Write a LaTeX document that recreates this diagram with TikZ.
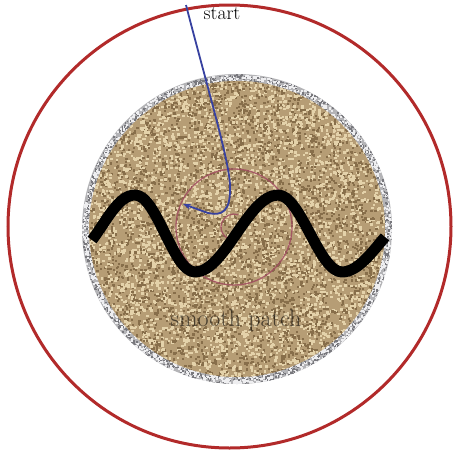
\documentclass[tikz,border=0pt]{standalone}
\usetikzlibrary{arrows.meta}
\definecolor{ringred}{RGB}{178,42,42}
\definecolor{tanbase}{RGB}{182,157,117}
\definecolor{tanlight}{RGB}{228,210,170}
\definecolor{tandark}{RGB}{135,110,74}
\definecolor{rimgray}{RGB}{180,180,183}
\definecolor{rimlight}{RGB}{238,238,240}
\definecolor{rimdark}{RGB}{120,120,125}
\definecolor{smallred}{RGB}{160,75,95}
\definecolor{pathblue}{RGB}{55,65,160}
\tikzset{
  bigring/.style={draw=ringred, line width=3},
  smallring/.style={draw=smallred, line width=1.3, opacity=0.85},
  bluepath/.style={draw=pathblue, line width=1.8},
  wave/.style={draw=black, line width=11, line cap=butt, line join=round},
  labeltext/.style={font=\fontsize{19.5}{22}\selectfont, text=black},
  patchtext/.style={font=\fontsize{24}{28}\selectfont, text=black, opacity=0.6},
}
\begin{document}
\begin{tikzpicture}[x=1pt,y=-1pt]
\useasboundingbox (0,0) rectangle (458,456);
\fill[white] (0,0) rectangle (458,456);
\coordinate (C) at (229.5,226.5);
\coordinate (D) at (237,229);
\coordinate (E) at (234,227);
% big ring
\draw[bigring] (C) circle (221.5);
% textured disk
\fill[rimgray] (D) circle (155);
\pgfmathsetseed{7}
\begin{scope}
\clip (D) circle (155);
\foreach \i in {1,...,1400}{
  \pgfmathsetmacro\ang{360*rnd}
  \pgfmathsetmacro\rr{146+9*rnd}
  \pgfmathsetmacro\angb{360*rnd}
  \pgfmathsetmacro\rrb{146+9*rnd}
  \fill[rimlight, shift={(D)}] (\ang:\rr) rectangle ++(2,2);
  \fill[rimdark, shift={(D)}] (\angb:\rrb) rectangle ++(1.5,1.5);
}
\end{scope}
\fill[tanbase] (D) circle (148);
\begin{scope}
\clip (D) circle (148);
\foreach \i in {1,...,3600}{
  \pgfmathsetmacro\ang{360*rnd}
  \pgfmathsetmacro\rr{150*sqrt(rnd)}
  \pgfmathsetmacro\angb{360*rnd}
  \pgfmathsetmacro\rrb{150*sqrt(rnd)}
  \fill[tandark, shift={(D)}] (\angb:\rrb) rectangle ++(2.2,2.2);
  \fill[tanlight, shift={(D)}] (\ang:\rr) rectangle ++(2.6,2.4);
}
\end{scope}
% small ring
\draw[smallring] (E) circle (58);
\draw[smallring] (E) ++(-71:13) arc[start angle=-71, end angle=-259, radius=13];
% labels
\node[labeltext] (start) at (222,14) {start};
\node[patchtext] (patch) at (236,321) {smooth patch};
% blue path
\coordinate (S) at (186,5);
\coordinate (T) at (183,204);
\draw[bluepath, -{Stealth[length=8,width=6]}] (S) .. controls (208,90) and (229,160) .. (230,185) .. controls (231,212) and (222,216) .. (208,213) -- (T);
% wave
\coordinate (W0) at (92,240);
\coordinate (W5) at (385,237);
\draw[wave] (W0) .. controls (106,222) and (118,195) .. (135,195)
  .. controls (157,195) and (173,272) .. (195,272)
  .. controls (225,272) and (248,195) .. (278,195)
  .. controls (301,195) and (319,272) .. (342,272)
  .. controls (358,272) and (372,252) .. (W5);
\end{tikzpicture}
\end{document}
